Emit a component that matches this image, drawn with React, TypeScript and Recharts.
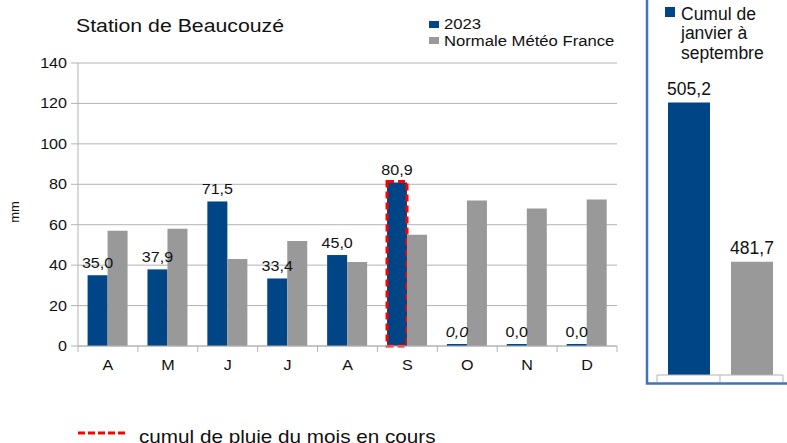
import React from 'react';
import { BarChart, Bar, XAxis, YAxis, CartesianGrid, LabelList, Cell } from 'recharts';

// ---- data ----
const months = ['A', 'M', 'J', 'J', 'A', 'S', 'O', 'N', 'D'];
const rain2023 = [35.0, 37.9, 71.5, 33.4, 45.0, 80.9, 0, 0, 0];
const normale = [57, 58, 43, 52, 41.5, 55, 72, 68, 72.5];
const yTicks = [0, 20, 40, 60, 80, 100, 120, 140];
const CURRENT_INDEX = 5; // September: month in progress
const ITALIC_INDEX = 6;
const cumulNames = ['2023', 'Normale'];
const cumulValues = [505.2, 481.7];

const BLUE = '#004586';
const GRAY = '#999999';
const GRID = '#b3b3b3';
const FONT = '"Liberation Sans", Arial, sans-serif';
const SX = 1.15;

// main chart geometry
const MAIN_W = 640;
const MAIN_H = 443;
const MAIN_M = { top: 63, right: 23, bottom: 67, left: 0 };
const Y_W = 78;
const X_H = 30;
const BAND = (MAIN_W - MAIN_M.right - MAIN_M.left - Y_W) / months.length;

// side chart geometry
const SIDE_W = 141;
const SIDE_M = { top: 70, right: 4, bottom: 58, left: 11 };
const SIDE_BAND = (SIDE_W - SIDE_M.left - SIDE_M.right) / cumulValues.length;

const fmt = (v: number) => v.toFixed(1).replace('.', ',');

const monthData = months.map((m, i) => ({ month: m, rain: rain2023[i], normal: normale[i], current: i === CURRENT_INDEX }));
const cumulData = cumulNames.map((n, i) => ({ name: n, value: cumulValues[i] }));

const MonthTick = (props: any) => {
  const { x, y, payload, index } = props;
  const axisY = y - 6;
  const half = BAND / 2;
  return (
    <g>
      <line x1={x - half} x2={x - half} y1={axisY} y2={axisY + 6} stroke={GRID} />
      {index === months.length - 1 && <line x1={x + half} x2={x + half} y1={axisY} y2={axisY + 6} stroke={GRID} />}
      <text transform={`translate(${x},${y + 18}) scale(${SX},1)`} textAnchor="middle" fontSize={14} fontFamily={FONT} fill="#111">
        {payload.value}
      </text>
    </g>
  );
};

const ValueTick = (props: any) => {
  const { x, y, payload } = props;
  return (
    <text transform={`translate(${x},${y + 5}) scale(${SX},1)`} textAnchor="end" fontSize={14} fontFamily={FONT} fill="#111">
      {payload.value}
    </text>
  );
};

const SideTick = (props: any) => {
  const { x, y, index } = props;
  const axisY = y - 7;
  const half = SIDE_BAND / 2;
  return (
    <g>
      <line x1={x - half} x2={x - half} y1={axisY} y2={axisY + 7} stroke={GRID} />
      {index === cumulValues.length - 1 && <line x1={x + half} x2={x + half} y1={axisY} y2={axisY + 7} stroke={GRID} />}
    </g>
  );
};

const getBox = (props: any) => {
  const vb = props.viewBox && props.viewBox.x !== undefined ? props.viewBox : props;
  return { x: vb.x, y: vb.y, width: vb.width, height: vb.height };
};

const RainLabel = (props: any) => {
  const { x, y, width } = getBox(props);
  const { value, index } = props;
  return (
    <text
      transform={`translate(${x + width / 2},${y - 7}) scale(${SX},1)`}
      textAnchor="middle"
      fontSize={14}
      fontFamily={FONT}
      fontStyle={index === ITALIC_INDEX ? 'italic' : 'normal'}
      fill="#111"
    >
      {fmt(Number(value))}
    </text>
  );
};

const SideLabel = (props: any) => {
  const { x, y, width } = getBox(props);
  const { value } = props;
  return (
    <text x={x + width / 2} y={y - 8} textAnchor="middle" fontSize={17.5} fontFamily={FONT} fill="#111">
      {fmt(Number(value))}
    </text>
  );
};

const RainShape = (props: any) => {
  const { x, y, width, height, fill, payload, index } = props;
  const isCurrent = (payload && payload.current) || props.current || index === CURRENT_INDEX;
  return (
    <g>
      <rect x={x} y={y} width={width} height={height} fill={fill} />
      {isCurrent && (
        <rect x={x} y={y - 1} width={width} height={height + 1} fill="none" stroke="#ff0000" strokeWidth={3} strokeDasharray="7 4" />
      )}
    </g>
  );
};

export default function App() {
  return (
    <div style={{ position: 'absolute', left: 0, top: 0, width: 787, height: 443, background: '#fff', overflow: 'hidden', fontFamily: FONT }}>
      <div style={{ position: 'absolute', left: 0, top: 0 }}>
        <BarChart width={MAIN_W} height={MAIN_H} data={monthData} margin={MAIN_M} barCategoryGap="16%" barGap={0}>
          <CartesianGrid vertical={false} stroke={GRID} />
          <XAxis
            dataKey="month"
            height={X_H}
            tickSize={6}
            tickMargin={0}
            tickLine={false}
            axisLine={{ stroke: GRID }}
            tick={(p: any) => <MonthTick {...p} />}
            interval={0}
          />
          <YAxis
            width={Y_W}
            domain={[0, 140]}
            ticks={yTicks}
            tickSize={7}
            tickMargin={4}
            tickLine={{ stroke: GRID }}
            axisLine={{ stroke: GRID }}
            tick={(p: any) => <ValueTick {...p} />}
          />
          <YAxis yAxisId="r" orientation="right" width={0} domain={[0, 140]} tick={false} tickLine={false} axisLine={{ stroke: GRID }} />
          <Bar dataKey="rain" fill={BLUE} isAnimationActive={false} minPointSize={2} shape={(p: any) => <RainShape {...p} />}>
            <LabelList dataKey="rain" content={(p: any) => <RainLabel {...p} />} />
          </Bar>
          <Bar dataKey="normal" fill={GRAY} isAnimationActive={false} />
        </BarChart>
      </div>

      <div style={{ position: 'absolute', left: 646, top: 0 }}>
        <BarChart width={SIDE_W} height={MAIN_H} data={cumulData} margin={SIDE_M} barSize={42}>
          <XAxis dataKey="name" height={10} tickSize={7} tickMargin={0} tickLine={false} axisLine={{ stroke: GRID }} tick={(p: any) => <SideTick {...p} />} interval={0} />
          <YAxis hide width={0} domain={[465, 510]} allowDataOverflow />
          <Bar dataKey="value" isAnimationActive={false}>
            {cumulData.map((d, i) => (
              <Cell key={d.name} fill={i === 0 ? BLUE : GRAY} />
            ))}
            <LabelList dataKey="value" content={(p: any) => <SideLabel {...p} />} />
          </Bar>
        </BarChart>
      </div>

      <svg width={787} height={443} style={{ position: 'absolute', left: 0, top: 0, pointerEvents: 'none' }}>
        <text transform={`translate(76,32) scale(${SX},1)`} fontSize={18.5} fontFamily={FONT} fill="#111">Station de Beaucouzé</text>

        <rect x={429} y={21} width={10} height={7} fill={BLUE} />
        <text transform={`translate(444,29) scale(${SX},1)`} fontSize={14.5} fontFamily={FONT} fill="#111">2023</text>
        <rect x={429} y={37} width={10} height={7} fill={GRAY} />
        <text transform={`translate(444,46) scale(${SX},1)`} fontSize={14.5} fontFamily={FONT} fill="#111">Normale Météo France</text>

        <text transform="translate(19,212) rotate(-90)" textAnchor="middle" fontSize={13} fontFamily={FONT} fill="#111">mm</text>

        <polyline points="647,0 647,383.5 787,383.5" fill="none" stroke="#4472b8" strokeWidth={2.5} />
        <rect x={665} y={7} width={10} height={10} fill={BLUE} />
        <text x={681} y={19.5} fontSize={17.5} fontFamily={FONT} fill="#111">Cumul de</text>
        <text x={681} y={39} fontSize={17.5} fontFamily={FONT} fill="#111">janvier à</text>
        <text x={681} y={58.5} fontSize={17.5} fontFamily={FONT} fill="#111">septembre</text>

        <line x1={78} x2={128} y1={433} y2={433} stroke="#ff0000" strokeWidth={3} strokeDasharray="7 3" />
        <text transform={`translate(139,443) scale(${SX},1)`} fontSize={18} fontFamily={FONT} fill="#111">cumul de pluie du mois en cours</text>
      </svg>
    </div>
  );
}
